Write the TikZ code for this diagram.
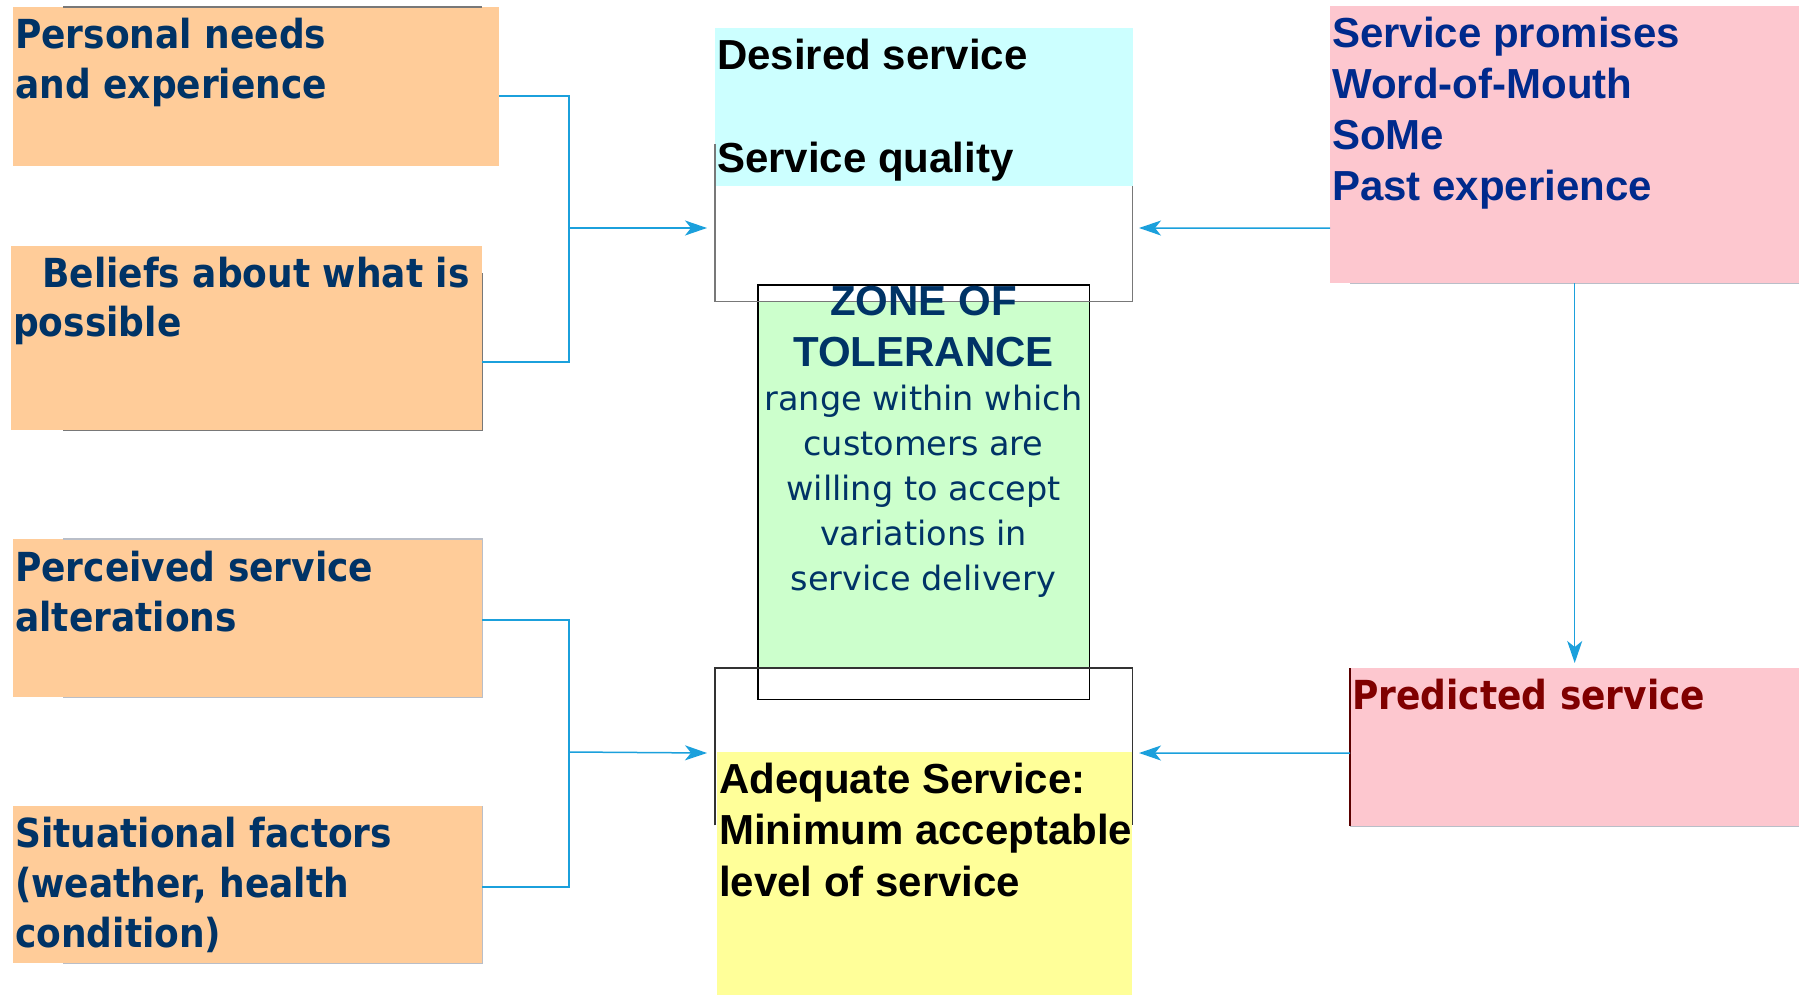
\documentclass[tikz,border=0pt]{standalone}
\usepackage{fontspec}
\usetikzlibrary{arrows.meta}

\newfontfamily\humfont[FakeStretch=0.9]{DejaVu Sans}
\newfontfamily\humreg{DejaVu Sans}
\newfontfamily\grotfont{Liberation Sans}

% stacked lines whose baseline is the first line
\newcommand\rowsL[1]{\vtop{\halign{##\hfil\cr#1\crcr}}}
\newcommand\rowsC[1]{\vtop{\halign{\hfil##\hfil\cr#1\crcr}}}

\definecolor{navy}{RGB}{0,51,102}
\definecolor{royal}{RGB}{0,42,140}
\definecolor{darkred}{RGB}{128,0,0}
\definecolor{peach}{RGB}{255,204,153}
\definecolor{skyc}{RGB}{204,255,255}
\definecolor{mint}{RGB}{204,255,204}
\definecolor{lemon}{RGB}{255,255,153}
\definecolor{rose}{RGB}{253,199,207}
\definecolor{wire}{RGB}{27,160,220}
\definecolor{edgegray}{RGB}{120,120,120}
\definecolor{softgray}{RGB}{185,190,200}

\tikzset{
  panel/.style={rectangle, draw=none, inner sep=0, anchor=north west},
  lefttxt/.style={font=\humfont\bfseries\fontsize{40}{50}\selectfont, text=navy, inner sep=0, anchor=base west},
  grottxt/.style={font=\grotfont\bfseries\fontsize{42}{51.5}\selectfont, inner sep=0, anchor=base west},
  bodytxt/.style={font=\humreg\fontsize{33.5}{45}\selectfont, text=navy, inner sep=0, anchor=base},
  link/.style={draw=wire, line width=1.5pt},
  feed/.style={link, -{Stealth[length=22pt,width=15pt,inset=6pt]}},
  frameline/.style={draw=edgegray, line width=1.3pt},
  shadeline/.style={draw=softgray, line width=1.2pt},
}

\begin{document}
\begin{tikzpicture}[x=1pt,y=-1pt]
\useasboundingbox (0,0) rectangle (1799,995);
\fill[white] (0,0) rectangle (1799,995);

% left-hand influence boxes
\node[panel, fill=peach, minimum width=486pt, minimum height=159pt] (pn) at (13,7) {};
\node[panel, fill=peach, minimum width=471pt, minimum height=184pt] (bp) at (11,246) {};
\node[panel, fill=peach, minimum width=469pt, minimum height=158pt] (ps) at (13,539) {};
\node[panel, fill=peach, minimum width=469pt, minimum height=157pt] (sf) at (13,806) {};

\coordinate (gx) at (63,0);
\draw[frameline] (pn.north west -| gx) -- ([xshift=-17pt]pn.north east);
\draw[frameline] (bp.south west -| gx) -- (bp.south east) -- ([yshift=-27pt]bp.north east);
\draw[shadeline] (ps.north west -| gx) -- (ps.north east) -- (ps.south east) -- (ps.south west -| gx);
\draw[shadeline] (sf.north east) -- (sf.south east) -- (sf.south west -| gx);

% central zone of tolerance and its two frames
\node[panel, fill=mint, minimum width=331pt, minimum height=414pt] (zt) at (758,285) {};
\node[panel, fill=white, minimum width=417pt, minimum height=115pt] (uf) at (715,186) {};
\node[panel, fill=white, minimum width=417pt, minimum height=157pt] (lf) at (715,668) {};
\draw[black, line width=1.2pt] (zt.north west) rectangle (zt.south east);
\node[panel, fill=skyc, minimum width=418pt, minimum height=158pt] (ds) at (715,28) {};
\draw[frameline] ([yshift=42pt]uf.north west) -- (uf.south west) -- (uf.south east) -- (uf.north east);
\draw[frameline, draw=black!80] (lf.south west) -- (lf.north west) -- (lf.north east) -- (lf.south east);
\node[panel, fill=lemon, minimum width=415pt, minimum height=243pt] (aq) at (717,752) {};

% right-hand boxes
\node[panel, fill=rose, minimum width=469pt, minimum height=277pt] (sp) at (1330,6) {};
\node[panel, fill=rose, minimum width=449pt, minimum height=158pt] (pr) at (1350,668) {};
\draw[shadeline] ([xshift=20pt]sp.south west) -- (sp.south east);
\draw[shadeline] (pr.south west) -- (pr.south east);
\draw[draw=darkred!70!black, line width=1.2pt] (pr.north west) -- (pr.south west);

% texts
\node[lefttxt] (pnt) at (15,49) {\rowsL{Personal needs\cr and experience}};
\node[lefttxt] (bpt) at (13,287) {\rowsL{\hspace*{29pt}Beliefs about what is\cr possible}};
\node[lefttxt] (pst) at (15,581) {\rowsL{Perceived service\cr alterations}};
\node[lefttxt] (sft) at (15,847) {\rowsL{Situational factors\cr (weather, health\cr condition)}};

\node[grottxt, text=black] (dst) at (717,70) {\rowsL{Desired service\cr\cr Service quality}};
\node[grottxt, text=navy, anchor=base] (ztt) at (923.5,315) {\rowsC{ZONE OF\cr TOLERANCE}};
\node[bodytxt] (ztb) at (923.5,410) {\rowsC{range within which\cr customers are\cr willing to accept\cr variations in\cr service delivery}};
\node[grottxt, text=black] (aqt) at (719,793) {\rowsL{Adequate Service:\cr Minimum acceptable\cr level of service}};

\node[grottxt, text=royal, font=\grotfont\bfseries\fontsize{42}{51}\selectfont] (spt) at (1332,48) {\rowsL{Service promises\cr Word-of-Mouth\cr SoMe\cr Past experience}};
\node[lefttxt, text=darkred] (prt) at (1352,709) {Predicted service};

% connectors
\coordinate (jl1) at (569,228);
\coordinate (jl2) at (569,752);
\coordinate (inU) at (707,228);
\coordinate (inL) at (707,753);
\coordinate (inUR) at (1139,228);
\coordinate (inLR) at (1139,753);

\draw[link] ([yshift=-9.5pt]pn.east) -| (jl1) |- ([yshift=-24pt]bp.east);
\draw[feed] (jl1) -- (inU);
\draw[link] ([yshift=-2pt]ps.east) -| (jl2) |- ([yshift=-2.5pt]sf.east);
\draw[feed] (jl2) -- (inL);

\draw[feed] ([yshift=-83.5pt]sp.west) -- (inUR);
\draw[feed] ([yshift=-6pt]pr.west) -- (inLR);
\draw[feed] (sp.south -| pr.north) -- ([yshift=5pt]pr.north);
\end{tikzpicture}
\end{document}
